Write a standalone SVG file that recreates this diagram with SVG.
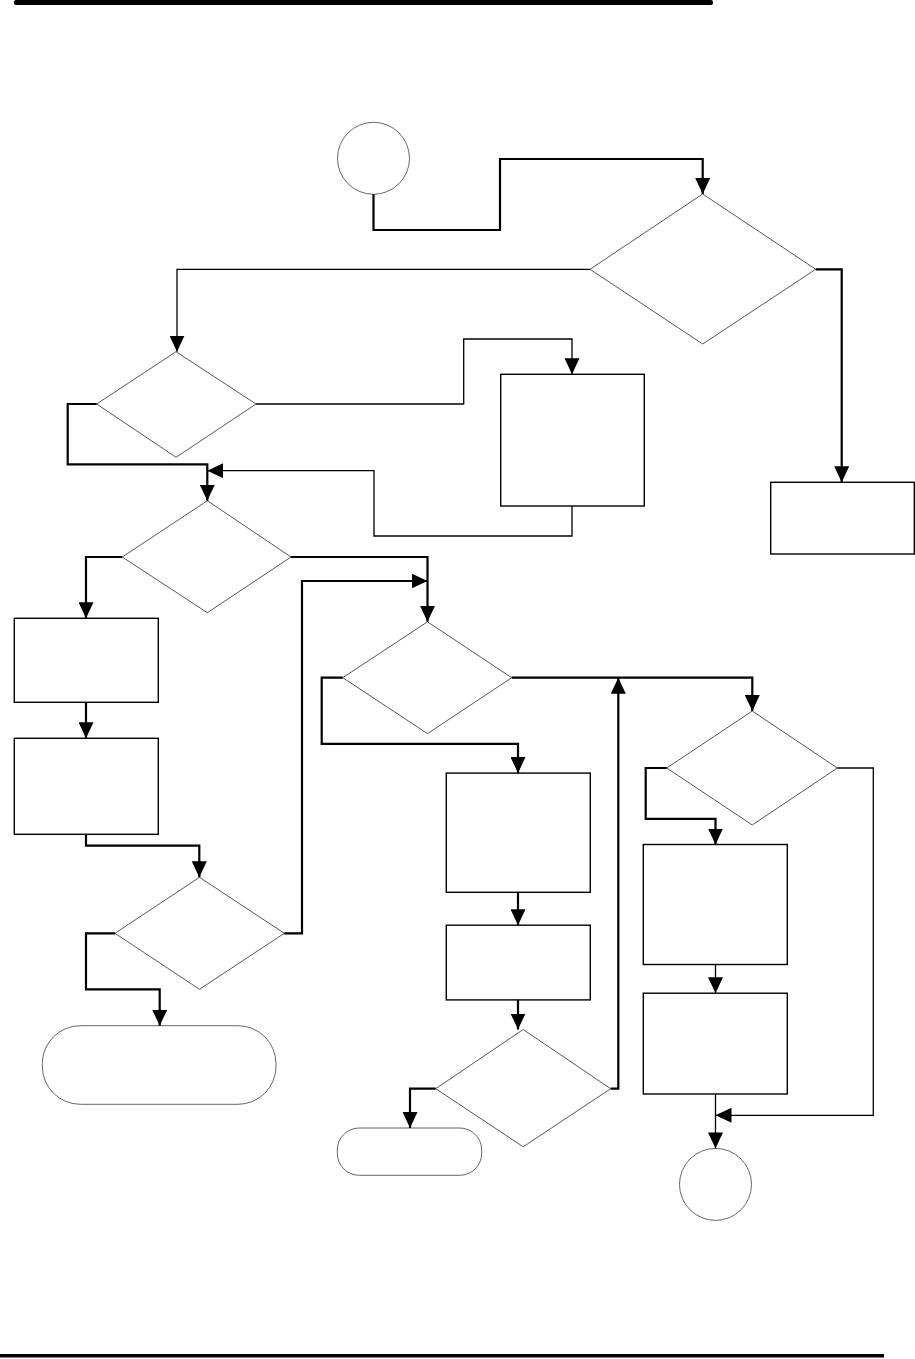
<svg xmlns="http://www.w3.org/2000/svg" width="915" height="1359" viewBox="0 0 915 1359">
<style>
.bg{fill:#fff}
.dia{fill:#fff;stroke:#444;stroke-width:0.9}
.box{fill:#fff;stroke:#000;stroke-width:1.4}
.ter{fill:#fff;stroke:#555;stroke-width:0.9}
.c{fill:none;stroke:#000;stroke-width:2.2;stroke-linejoin:miter}
.t{fill:none;stroke:#000;stroke-width:1.3;stroke-linejoin:miter}
.rule{fill:#000}
</style>
<defs>
<marker id="ah" viewBox="0 0 16 15" refX="16" refY="7.5" markerWidth="16" markerHeight="15" markerUnits="userSpaceOnUse" orient="auto">
<path d="M0,0 L16,7.5 L0,15 z" fill="#000"/>
</marker>
</defs>
<rect class="bg" x="0" y="0" width="915" height="1359"/>
<rect class="rule" x="14" y="0" width="699" height="5" rx="2"/>
<rect class="rule" x="0" y="1354" width="884" height="3.5"/>

<g id="start"><circle class="ter" cx="373.5" cy="158.3" r="36"/></g>
<g id="d1"><polygon class="dia" points="702.7,194 815.7,269.3 702.7,344 590,269.3"/></g>
<g id="d2"><polygon class="dia" points="176,351.7 256,404 176,457.3 96.7,404"/></g>
<g id="rA"><rect class="box" x="500.7" y="374.3" width="143.6" height="131.7"/></g>
<g id="rB"><rect class="box" x="770.7" y="482.3" width="143.6" height="71.7"/></g>
<g id="d3"><polygon class="dia" points="207.3,500.7 291,557 207.3,612.7 122.3,557"/></g>
<g id="rC"><rect class="box" x="14.3" y="618.3" width="144" height="84"/></g>
<g id="rD"><rect class="box" x="14.3" y="738.3" width="144" height="96"/></g>
<g id="d5"><polygon class="dia" points="199.5,877.3 284.3,933.3 199.5,989.3 115,933.3"/></g>
<g id="term1"><rect class="ter" x="42.3" y="1025.7" width="233.7" height="78.6" rx="38" ry="38"/></g>
<g id="d4"><polygon class="dia" points="427.5,621.8 511.7,677.7 427.5,733.6 342.7,677.7"/></g>
<g id="rE"><rect class="box" x="446.3" y="773.1" width="144" height="119.2"/></g>
<g id="rF"><rect class="box" x="446.3" y="925.2" width="144" height="74.7"/></g>
<g id="d7"><polygon class="dia" points="523.2,1029.5 610.7,1088.7 523.2,1146.8 435.7,1088.7"/></g>
<g id="term2"><rect class="ter" x="337.3" y="1128" width="144.4" height="47.3" rx="22" ry="22"/></g>
<g id="d6"><polygon class="dia" points="752.3,711 837.3,768 752.3,825 666.7,768"/></g>
<g id="rG"><rect class="box" x="643.3" y="844.5" width="144" height="120"/></g>
<g id="rH"><rect class="box" x="643.3" y="993.2" width="144" height="100.8"/></g>
<g id="end"><circle class="ter" cx="715.5" cy="1184.4" r="36"/></g>

<g id="connectors">
<path class="c" d="M373.5,194.3 V230 H500 V159 H702.7 V194" marker-end="url(#ah)"/>
<path class="t" d="M590,269.3 H177 V351.7" marker-end="url(#ah)"/>
<path class="c" d="M815.7,269.3 H841.7 V482.3" marker-end="url(#ah)"/>
<path class="t" d="M256,404 H463.7 V339 H572 V374.3" marker-end="url(#ah)"/>
<path class="c" d="M96.7,404 H67.7 V464.3 H207.3 V500.7" marker-end="url(#ah)"/>
<path class="t" d="M572,506 V536 H374 V470.7 H207.3" marker-end="url(#ah)"/>
<path class="c" d="M122.3,557 H86 V618.3" marker-end="url(#ah)"/>
<path class="c" d="M291,557 H427.5 V621.8" marker-end="url(#ah)"/>
<path class="c" d="M86,702.3 V738.3" marker-end="url(#ah)"/>
<path class="c" d="M86,834.3 V845.7 H199.3 V877.3" marker-end="url(#ah)"/>
<path class="c" d="M284.3,933.3 H302 V581 H427.5" marker-end="url(#ah)"/>
<path class="c" d="M115,933.3 H86 V989.3 H159.7 V1025.7" marker-end="url(#ah)"/>
<path class="c" d="M342.7,677.7 H321.7 V743.9 H518 V773.1" marker-end="url(#ah)"/>
<path class="c" d="M511.7,677.7 H752.3 V711" marker-end="url(#ah)"/>
<path class="c" d="M518,892.3 V925.2" marker-end="url(#ah)"/>
<path class="c" d="M518,999.9 V1029.5" marker-end="url(#ah)"/>
<path class="c" d="M610.7,1088.7 H618.3 V677.7" marker-end="url(#ah)"/>
<path class="c" d="M435.7,1088.7 H410 V1128" marker-end="url(#ah)"/>
<path class="c" d="M666.7,768 H645.7 V818.8 H715.5 V844.5" marker-end="url(#ah)"/>
<path class="t" d="M715.5,964.5 V993.2" marker-end="url(#ah)"/>
<path class="t" d="M715.5,1094 V1148.4" marker-end="url(#ah)"/>
<path class="t" d="M837.3,768 H873.3 V1115.3 H715.5" marker-end="url(#ah)"/>
</g>
</svg>
